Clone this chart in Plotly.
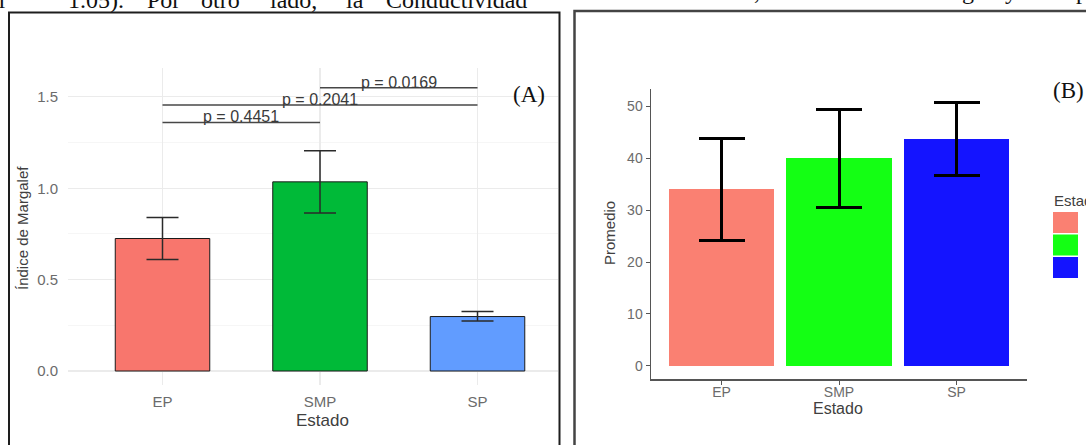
import plotly.graph_objects as go

W, H = 1086, 445

# ---------------- data ----------------
categories = ["EP", "SMP", "SP"]

# Panel A: Margalef index (mean and error-bar limits)
a_means = [0.725, 1.035, 0.298]
a_upper = [0.840, 1.205, 0.325]
a_lower = [0.610, 0.864, 0.273]
a_colors = ["#F8766D", "#00BA38", "#619CFF"]

# p-value brackets for panel A
p_labels = ["p = 0.4451", "p = 0.2041", "p = 0.0169"]
p_from = ["EP", "EP", "SMP"]
p_to = ["SMP", "SP", "SP"]
p_levels = [1.360, 1.455, 1.550]

# Panel B: Promedio (mean and error-bar limits)
b_means = [34.0, 40.0, 43.8]
b_upper = [43.8, 49.4, 50.8]
b_lower = [24.2, 30.6, 36.7]
b_colors = ["#FA8072", "#14FF14", "#1414FF"]

a_yticks = [0.0, 0.5, 1.0, 1.5]
b_yticks = [0, 10, 20, 30, 40, 50]


def px(x):
    return x / W


def py(y):
    return 1 - y / H


SANS = "Liberation Sans, Arial, sans-serif"
SERIF = "Liberation Serif, Times New Roman, serif"
TXT = "#404040"
TICK = "#6b6b6b"

fig = go.Figure()


def note(x, y, text, size, family=SANS, color=TXT, angle=0,
         xa="center", ya="middle"):
    fig.add_annotation(x=px(x), y=py(y), xref="paper", yref="paper",
                       text=text, showarrow=False, textangle=angle,
                       xanchor=xa, yanchor=ya,
                       font=dict(family=family, size=size, color=color))


# ---------------- Panel A ----------------
fig.add_trace(go.Bar(
    x=categories, y=a_means, width=0.6,
    marker=dict(color=a_colors, line=dict(color="#1a1a1a", width=1)),
    error_y=dict(type="data", symmetric=False,
                 array=[u - m for u, m in zip(a_upper, a_means)],
                 arrayminus=[m - l for m, l in zip(a_means, a_lower)],
                 color="#2a2a2a", thickness=1.5, width=16),
    xaxis="x", yaxis="y", showlegend=False, hoverinfo="skip",
))

for lab, f, t, lev in zip(p_labels, p_from, p_to, p_levels):
    fig.add_trace(go.Scatter(
        x=[f, t], y=[lev, lev], mode="lines",
        line=dict(color="#474747", width=1.5),
        xaxis="x", yaxis="y", showlegend=False, hoverinfo="skip",
    ))
    mid = (categories.index(f) + categories.index(t)) / 2
    fig.add_annotation(x=mid, y=lev, xref="x", yref="y", text=lab,
                       showarrow=False, xanchor="center", yanchor="bottom",
                       yshift=-5,
                       font=dict(family=SANS, size=16, color="#3a3a3a"))

# ---------------- Panel B ----------------
fig.add_trace(go.Bar(
    x=categories, y=b_means, width=0.9,
    marker=dict(color=b_colors, line=dict(width=0)),
    error_y=dict(type="data", symmetric=False,
                 array=[u - m for u, m in zip(b_upper, b_means)],
                 arrayminus=[m - l for m, l in zip(b_means, b_lower)],
                 color="#000000", thickness=3, width=23),
    xaxis="x2", yaxis="y2", showlegend=False, hoverinfo="skip",
))

# ---------------- axes ----------------
fig.update_layout(
    width=W, height=H, autosize=False,
    margin=dict(l=0, r=0, t=0, b=0, autoexpand=False),
    paper_bgcolor="white", plot_bgcolor="white",
    bargap=0,
    xaxis=dict(domain=[px(68), px(558)], type="category",
               categoryorder="array", categoryarray=categories,
               range=[-0.6, 2.511], showgrid=True, gridcolor="#EBEBEB",
               gridwidth=1.2, zeroline=False, showline=False,
               ticks="outside", ticklen=3, tickcolor="rgba(0,0,0,0)",
               tickfont=dict(family=SANS, size=15, color=TICK),
               anchor="y", fixedrange=True, automargin=False),
    yaxis=dict(domain=[py(385), py(68)], range=[-0.0766, 1.658],
               tickvals=a_yticks, ticktext=[f"{v:.1f}" for v in a_yticks],
               showgrid=True, gridcolor="#EBEBEB", gridwidth=1.2,
               minor=dict(dtick=0.25, showgrid=True, gridcolor="#F4F4F4",
                          gridwidth=0.8),
               zeroline=False, showline=False,
               ticks="outside", ticklen=6, tickcolor="rgba(0,0,0,0)",
               tickfont=dict(family=SANS, size=15, color=TICK),
               anchor="x", fixedrange=True, automargin=False),
    xaxis2=dict(domain=[px(651), px(1027)], type="category",
                categoryorder="array", categoryarray=categories,
                range=[-0.6, 2.6], showgrid=False, zeroline=False,
                showline=True, linecolor="#555555", linewidth=1.5,
                ticks="outside", ticklen=4, tickcolor="#555555",
                ticklabelstandoff=-4,
                tickfont=dict(family=SANS, size=14, color=TICK),
                anchor="y2", fixedrange=True, automargin=False),
    yaxis2=dict(domain=[py(379), py(89)], range=[-2.54, 53.34],
                tickvals=b_yticks, showgrid=False, zeroline=False,
                showline=True, linecolor="#555555", linewidth=1.5,
                ticks="outside", ticklen=4, tickcolor="#555555",
                tickfont=dict(family=SANS, size=14, color=TICK),
                anchor="x2", fixedrange=True, automargin=False),
)

# ---------------- axis titles ----------------
note(23, 228, "Índice de Margalef", 15, angle=-90)
note(322, 420, "Estado", 17)
note(609, 233, "Promedio", 15, angle=-90)
note(838, 408, "Estado", 16)

# ---------------- panel labels ----------------
note(529, 95, "(A)", 23, family=SERIF, color="#111111")
note(1051, 90, "(B)", 23, family=SERIF, color="#111111", xa="left")

# ---------------- legend of panel B (drawn manually, labels cropped) ----
note(1052, 200, "Estado", 15, xa="left")
key_top = 212
for i, col in enumerate(b_colors):
    y0 = key_top + i * 22.5
    fig.add_shape(type="rect", xref="paper", yref="paper",
                  x0=px(1053), x1=px(1078), y0=py(y0 + 21), y1=py(y0),
                  fillcolor=col, line=dict(width=0))

# ---------------- panel borders ----------------
fig.add_shape(type="rect", xref="paper", yref="paper",
              x0=px(9), x1=px(559.5), y0=py(460), y1=py(12.5),
              line=dict(color="#1e1e1e", width=2), fillcolor="rgba(0,0,0,0)")
fig.add_shape(type="rect", xref="paper", yref="paper",
              x0=px(574.5), x1=px(1100), y0=py(460), y1=py(11),
              line=dict(color="#444444", width=2.5),
              fillcolor="rgba(0,0,0,0)")

# ---------------- cropped document text above the panels ----------------
words = [("r", -3), ("1.05).", 66), ("Por", 145), ("otro", 199),
         ("lado,", 268), ("la", 344), ("Conductividad", 384)]
for w, x0 in words:
    note(x0, 0, w, 24, family=SERIF, color="#111111", xa="left")
right_words = [(",", 752), ("g", 960), ("y", 1003), ("p", 1074)]
for w, x0 in right_words:
    note(x0, -9, w, 24, family=SERIF, color="#111111", xa="left")

fig.write_html("out.html",
               config={"displayModeBar": False, "staticPlot": True},
               post_script="document.body.style.margin='0px';"
                           "document.body.style.overflow='hidden';")
